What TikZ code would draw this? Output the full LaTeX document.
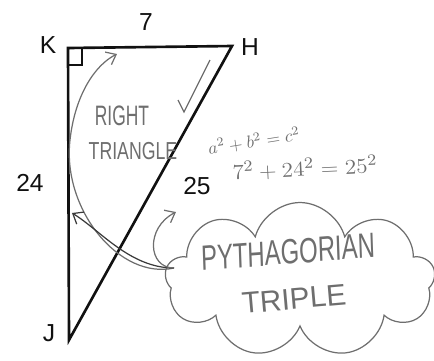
\documentclass[tikz,border=0pt]{standalone}
\usepackage{fontspec}
\setmainfont{Liberation Sans}
\usepackage{tikz}
\usetikzlibrary{arrows.meta, shapes.symbols}
\usepackage{xcolor}
\definecolor{sketchInk}{HTML}{111111}
\definecolor{sketchPencil}{HTML}{6E6E6E}
\definecolor{sketchDark}{HTML}{3A3A3A}

\begin{document}
\begin{tikzpicture}[x=0.02cm, y=-0.02cm,
    edge/.style={sketchInk, line width=1.5pt, line join=miter},
    vlabel/.style={text=sketchInk, font=\fontsize{14}{14}\selectfont},
    pencil/.style={sketchPencil, line width=0.7pt},
    scrawl/.style={text=sketchPencil, inner sep=0pt},
    barb/.style={-{Straight Barb[length=5pt, width=8pt]}}]
  \useasboundingbox (0,0) rectangle (434,360);
  % Vertices of the triangle
  \coordinate (K) at (68,48);
  \coordinate (H) at (232,46);
  \coordinate (J) at (69,340);
  \draw[edge] (K) -- (H) -- (J) -- cycle;
  \draw[sketchInk, line width=1pt] ([yshift=-0.34cm]K) -| ([xshift=0.28cm]K);
  % Vertex names and side lengths
  \node[vlabel] (lblK) at (48,45) {K};
  \node[vlabel] (lblH) at (250,47) {H};
  \node[vlabel] (lblJ) at (49,333) {J};
  \node[vlabel] (lblKH) at (146,22) {7};
  \node[vlabel] (lblKJ) at (30,183) {24};
  \node[vlabel] (lblHJ) at (197,186) {25};
  % Handwritten notes
  \node[scrawl, font=\fontsize{16}{16}\selectfont, xscale=0.62] (noteRight) at (122,116) {RIGHT};
  \node[scrawl, font=\fontsize{14}{14}\selectfont, xscale=0.72] (noteTri) at (133,151) {TRIANGLE};
  \draw[pencil] (178,100) -- (184,112) -- (210,60);
  \node[scrawl, font=\fontsize{10}{10}\selectfont, rotate=9] (eqGeneral) at (254,141) {$a^2+b^2=c^2$};
  \node[scrawl, font=\fontsize{13}{13}\selectfont, xscale=1.1, rotate=3] (eqValues) at (305,168) {$7^2+24^2=25^2$};
  % Cloud
  \node[cloud, draw, pencil, cloud puffs=9, aspect=1.85,
        minimum width=5.4cm, minimum height=3.1cm] (cloud) at (300,280) {};
  \node[scrawl, font=\fontsize{20}{20}\selectfont, xscale=0.68, rotate=3] (notePyth) at (288,252) {PYTHAGORIAN};
  \node[scrawl, font=\fontsize{17}{17}\selectfont, xscale=1.0, rotate=5] (noteTriple) at (294,299) {TRIPLE};
  % Arrows from the cloud
  \coordinate (tipTop) at (117,54);
  \coordinate (tipLeft) at (72,213);
  \coordinate (tipCurl) at (176,212);
  \coordinate (cloudFoot) at (174,268);
  \draw[pencil, barb] (cloudFoot) .. controls (120,280) and (62,210) .. (70,140)
        .. controls (75,95) and (95,65) .. (tipTop);
  \draw[sketchDark, line width=0.7pt, barb] (cloudFoot) .. controls (130,268) and (100,230) .. (tipLeft);
  \draw[pencil, barb] (cloudFoot) .. controls (148,268) and (145,228) .. (tipCurl);
\end{tikzpicture}
\end{document}
